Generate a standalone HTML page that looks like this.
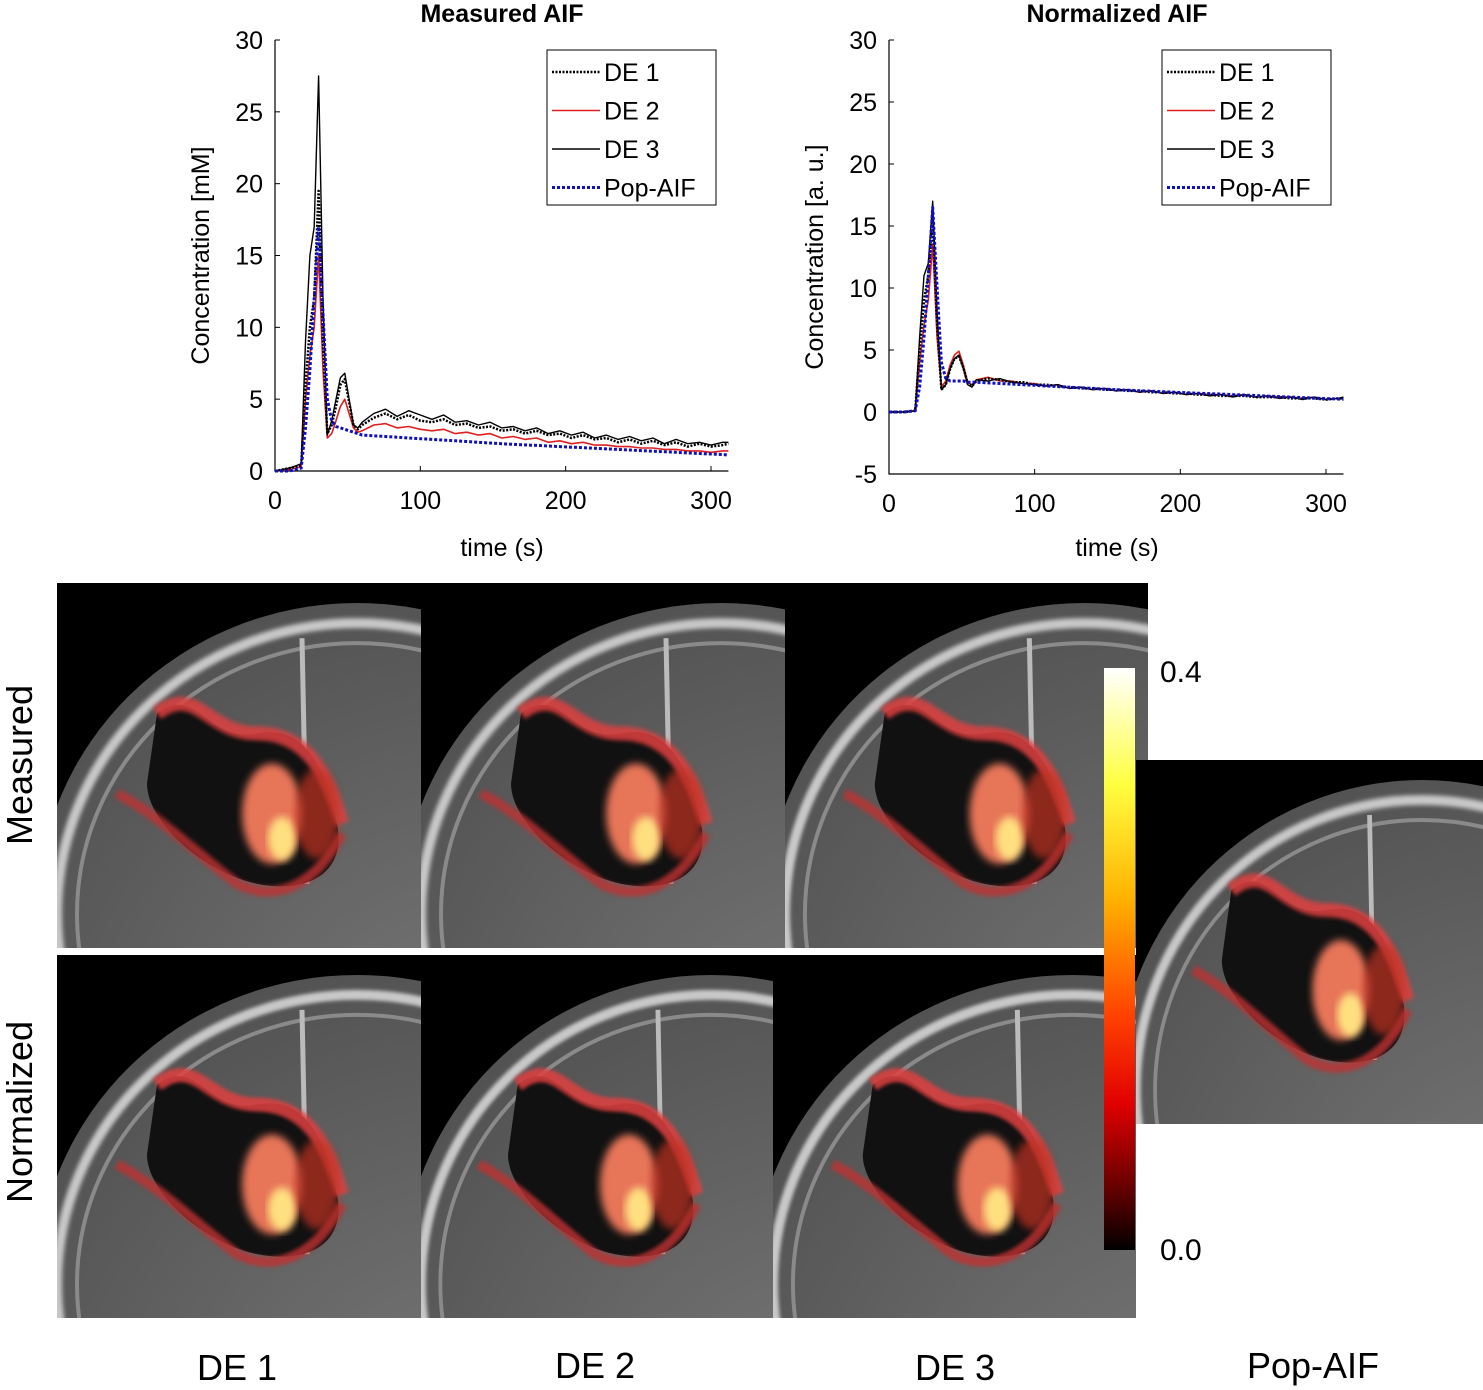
<!DOCTYPE html>
<html><head><meta charset="utf-8">
<style>
html,body{margin:0;padding:0;background:#fff;width:1483px;height:1390px;overflow:hidden;font-family:"Liberation Sans",sans-serif;}
svg{position:absolute;left:0;top:0;display:block}
</style></head>
<body>
<svg id="fig" width="1483" height="1390" viewBox="0 0 1483 1390" xmlns="http://www.w3.org/2000/svg">
<defs>
<linearGradient id="cbar" x1="0" y1="0" x2="0" y2="1">
<stop offset="0" stop-color="#ffffff"/><stop offset="0.2" stop-color="#ffff40"/><stop offset="0.4" stop-color="#ffb000"/><stop offset="0.6" stop-color="#ff4000"/><stop offset="0.75" stop-color="#e00000"/><stop offset="0.9" stop-color="#600000"/><stop offset="1" stop-color="#000000"/>
</linearGradient>
<radialGradient id="brainG" cx="0.7" cy="0.8" r="0.9"><stop offset="0" stop-color="#7a7a7a"/><stop offset="1" stop-color="#505050"/></radialGradient>
<filter id="blur4"><feGaussianBlur stdDeviation="4"/></filter>
<filter id="blur2"><feGaussianBlur stdDeviation="2"/></filter>
<symbol id="brain" viewBox="0 0 364 364" preserveAspectRatio="none">
<rect width="364" height="364" fill="#000"/>
<ellipse cx="300" cy="330" rx="320" ry="310" fill="url(#brainG)"/>
<ellipse cx="300" cy="330" rx="300" ry="290" fill="none" stroke="#c8c8c8" stroke-width="10" filter="url(#blur2)"/>
<ellipse cx="300" cy="330" rx="280" ry="270" fill="none" stroke="#8a8a8a" stroke-width="4"/>
<path d="M245 55 L250 300" stroke="#bbb" stroke-width="5"/>
<path d="M100 130 C140 100 150 160 200 150 C250 140 270 190 280 240 C290 290 250 310 200 300 C150 290 90 240 90 200 Z" fill="#111"/>
<path d="M100 130 C140 100 150 150 200 150 C250 150 270 190 285 240" fill="none" stroke="#e04040" stroke-width="14" filter="url(#blur2)" opacity="0.85"/>
<path d="M60 210 C100 230 140 270 180 300 C220 320 260 300 285 250" fill="none" stroke="#c03030" stroke-width="10" filter="url(#blur2)" opacity="0.8"/>
<ellipse cx="215" cy="230" rx="30" ry="50" fill="#ff8060" filter="url(#blur4)" opacity="0.9"/>
<ellipse cx="225" cy="255" rx="14" ry="22" fill="#ffe080" filter="url(#blur4)"/>
<ellipse cx="260" cy="230" rx="22" ry="45" fill="#c03020" filter="url(#blur4)" opacity="0.7"/>
</symbol>
</defs>
<g id="charts"></g>
<g id="images">
<use href="#brain" x="57" y="583" width="364" height="365"/>
<use href="#brain" x="421" y="583" width="364" height="365"/>
<use href="#brain" x="785" y="583" width="363" height="365"/>
<use href="#brain" x="57" y="955" width="364" height="363"/>
<use href="#brain" x="421" y="955" width="352" height="363"/>
<use href="#brain" x="773" y="955" width="363" height="363"/>
<use href="#brain" x="1136" y="760" width="347" height="364"/>
<rect x="1104" y="668" width="31" height="582" fill="url(#cbar)"/>
<text x="1160" y="682" font-size="30">0.4</text>
<text x="1160" y="1260" font-size="30">0.0</text>
<text transform="translate(32,765) rotate(-90)" text-anchor="middle" font-size="36">Measured</text>
<text transform="translate(32,1112) rotate(-90)" text-anchor="middle" font-size="36">Normalized</text>
<text x="237" y="1380" text-anchor="middle" font-size="36">DE 1</text>
<text x="595" y="1378" text-anchor="middle" font-size="36">DE 2</text>
<text x="955" y="1380" text-anchor="middle" font-size="36">DE 3</text>
<text x="1313" y="1378" text-anchor="middle" font-size="36">Pop-AIF</text>
</g>
</svg>
<script>
const times=[0,10,18,21,24,27,30,33,36,39,42,45,48,51,54,57,60,68,76,84,92,100,108,116,124,132,140,148,156,164,172,180,188,196,204,212,220,228,236,244,252,260,268,276,284,292,300,308,312];
const measDE1=[0,0.2,0.4,6,10,12,19.5,9,2.6,3.2,4.5,6,6.4,4.8,3.2,2.9,3.2,3.7,4.0,3.6,3.9,3.5,3.4,3.6,3.2,3.3,3.0,3.1,2.8,2.9,2.6,2.8,2.5,2.6,2.3,2.5,2.2,2.3,2.0,2.2,1.9,2.1,1.8,2.0,1.7,1.9,1.7,1.8,1.9];
const measDE2=[0,0.1,0.3,5,8,10,15,7,2.3,2.6,3.5,4.5,5.0,4,3,2.7,2.8,3.2,3.3,3.0,3.1,2.9,2.8,2.9,2.6,2.7,2.5,2.6,2.3,2.4,2.2,2.3,2.0,2.1,1.9,2.0,1.8,1.8,1.7,1.7,1.6,1.6,1.5,1.5,1.4,1.4,1.3,1.4,1.4];
const measDE3=[0,0.2,0.5,9,15,17,27.5,12,2.5,3.5,5,6.5,6.8,5,3.2,3.0,3.4,4.0,4.3,3.8,4.2,3.9,3.6,3.9,3.4,3.5,3.2,3.4,3.0,3.1,2.8,3.0,2.6,2.8,2.5,2.7,2.3,2.5,2.2,2.4,2.1,2.3,1.9,2.2,1.9,2.0,1.8,2.0,2.0];
const measPop=[0,0,0.2,3,7,12,17,11,5,3.5,3.1,3.0,2.9,2.8,2.7,2.6,2.5,2.45,2.4,2.35,2.3,2.25,2.2,2.15,2.1,2.05,2.0,1.95,1.9,1.86,1.82,1.78,1.74,1.7,1.66,1.62,1.58,1.54,1.5,1.46,1.42,1.38,1.34,1.3,1.26,1.22,1.18,1.14,1.12];
const normDE1=[0,0,0.1,5,9,11,15.5,7,1.8,2.2,3.5,4.3,4.5,3.6,2.3,2.1,2.5,2.7,2.6,2.4,2.4,2.2,2.2,2.1,2.0,1.9,1.9,1.8,1.8,1.7,1.7,1.6,1.6,1.5,1.5,1.4,1.4,1.3,1.3,1.3,1.2,1.2,1.2,1.1,1.1,1.1,1.0,1.1,1.1];
const normDE2=[0,0,0.1,4,7,9,13.5,6,2.0,2.5,3.8,4.6,4.9,3.8,2.4,2.2,2.6,2.8,2.5,2.5,2.3,2.3,2.1,2.2,1.9,2.0,1.8,1.9,1.7,1.8,1.6,1.7,1.5,1.6,1.4,1.5,1.4,1.4,1.3,1.4,1.2,1.3,1.2,1.2,1.1,1.2,1.0,1.1,1.1];
const normDE3=[0,0,0.1,6,11,12,17,8,1.8,2.2,3.5,4.3,4.6,3.5,2.2,2.0,2.6,2.5,2.7,2.4,2.3,2.2,2.1,2.2,1.9,2.0,1.8,1.9,1.7,1.8,1.6,1.7,1.5,1.6,1.4,1.5,1.3,1.4,1.2,1.4,1.2,1.3,1.1,1.2,1.0,1.2,1.0,1.1,1.2];
const normPop=[0,0,0.1,2,6,11,16.5,10,4,2.7,2.5,2.5,2.5,2.5,2.4,2.4,2.4,2.35,2.3,2.25,2.2,2.15,2.1,2.05,2.0,1.95,1.9,1.85,1.8,1.76,1.72,1.68,1.64,1.6,1.56,1.52,1.48,1.44,1.4,1.36,1.32,1.28,1.24,1.2,1.16,1.12,1.08,1.05,1.03];
const xTicks=[0,100,200,300];
const yTicksMeas=[0,5,10,15,20,25,30];
const yTicksNorm=[-5,0,5,10,15,20,25,30];
const legendLabels=["DE 1","DE 2","DE 3","Pop-AIF"];

const NS="http://www.w3.org/2000/svg";
const root=document.getElementById('charts');
function mk(tag,attrs,parent,text){const e=document.createElementNS(NS,tag);for(const k in attrs)e.setAttribute(k,attrs[k]);if(text!==undefined)e.textContent=text;(parent||root).appendChild(e);return e;}

const styles=[
 {stroke:"#000","stroke-width":2.5,"stroke-dasharray":"2,1.5"},
 {stroke:"#e02020","stroke-width":1.6},
 {stroke:"#000","stroke-width":1.4},
 {stroke:"#1010c0","stroke-width":3,"stroke-dasharray":"3,2"}
];

function chart(o){
 const g=mk('g',{});
 
 
 const sx=t=>o.x0+(t-0)*(o.x1-o.x0)/o.tmax;
 const sy=v=>o.y0+(v-o.ymin)*(o.y1-o.y0)/(o.ymax-o.ymin);
 const right=sx(o.tEnd);
 const ax=mk('path',{d:`M${o.x0} ${sy(o.ymax)} L${o.x0} ${sy(o.ymin)} L${right} ${sy(o.ymin)}`,fill:"none",stroke:"#000","stroke-width":1.2},g);
 
 
 for(const t of xTicks){
  mk('line',{x1:sx(t),x2:sx(t),y1:sy(o.ymin),y2:sy(o.ymin)-5,stroke:"#000"},g);
  const tx=mk('text',{x:sx(t),y:sy(o.ymin)+38,"text-anchor":"middle","font-size":25},g,String(t));
  
  
 }
 for(const v of o.yTicks){
  mk('line',{x1:o.x0,x2:o.x0+5,y1:sy(v),y2:sy(v),stroke:"#000"},g);
  const ty=mk('text',{x:o.x0-12,y:sy(v)+9,"text-anchor":"end","font-size":25},g,String(v));
  
  
 }
 const ti=mk('text',{x:o.titleX,y:22,"text-anchor":"middle","font-size":25,"font-weight":"bold"},g,o.title);
 
 
 const xl=mk('text',{x:o.titleX,y:556,"text-anchor":"middle","font-size":25},g,"time (s)");
 
 
 const yl=mk('text',{transform:`translate(${o.x0-66},${(sy(o.ymax)+sy(o.ymin))/2})) rotate(-90)`.replace('))',')'),"text-anchor":"middle","font-size":25},g,o.ylabel);
 
 
 const order=[1,0,2,3];
 for(const i of order){
  const d=o.series[i].map((v,k)=>(k?'L':'M')+sx(times[k]).toFixed(1)+' '+sy(v).toFixed(1)).join(' ');
  const p=mk('path',Object.assign({d,fill:"none","stroke-linejoin":"round"},styles[i]),g);
  
  
 }
 const lg=mk('g',{},g);
 
 
 mk('rect',{x:o.lx,y:50,width:169,height:155,fill:"#fff",stroke:"#000","stroke-width":1},lg);
 legendLabels.forEach((lab,i)=>{
  const y=72+i*38.5;
  mk('line',Object.assign({x1:o.lx+5,x2:o.lx+53,y1:y,y2:y},styles[i]),lg);
  const e=mk('text',{x:o.lx+57,y:y+9,"font-size":25},lg,lab);
  
  
 });
}
chart({name:'measured-aif-chart',title:'Measured AIF',titleX:502,x0:275,x1:711,tmax:300,tEnd:312,y0:471,y1:40,ymin:0,ymax:30,yTicks:yTicksMeas,ylabel:'Concentration [mM]',series:[measDE1,measDE2,measDE3,measPop],lx:547});
chart({name:'normalized-aif-chart',title:'Normalized AIF',titleX:1117,x0:889,x1:1326,tmax:300,tEnd:312,y0:474,y1:40,ymin:-5,ymax:30,yTicks:yTicksNorm,ylabel:'Concentration [a. u.]',series:[normDE1,normDE2,normDE3,normPop],lx:1162});
</script>
</body></html>
